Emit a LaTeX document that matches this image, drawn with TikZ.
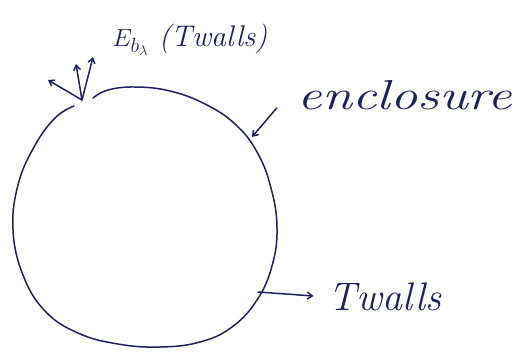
\documentclass[tikz,border=0pt]{standalone}
\usepackage{fontspec}
\usetikzlibrary{arrows.meta}
\definecolor{ink}{RGB}{28,32,92}
\tikzset{
  pen/.style={draw=ink, line width=1.5pt, line cap=round, line join=round},
  ray/.style={pen, -{Straight Barb[length=5pt,width=7pt]}},
  hand/.style={text=ink, inner sep=1pt, font=\itshape}
}
\begin{document}
\begin{tikzpicture}[x=1bp,y=-1bp]
\useasboundingbox (0,0) rectangle (518,358);
% enclosure wall
\draw[pen] plot[smooth, tension=0.7] coordinates {(93,98) (108,90) (135,87) (170,91) (205,104) (235,124) (257,152) (271,188) (277,228) (272,266) (257,300) (232,327) (200,342) (160,347) (118,344) (78,333) (45,311) (23,275) (13,230) (18,185) (34,147) (55,118) (74,106)};
\coordinate (emit) at (82,100);
\coordinate (ray1) at (48,80);
\coordinate (ray2) at (76,64);
\coordinate (ray3) at (93,57);
\coordinate (hit) at (252,137);
\coordinate (wall) at (258,292);
% emitted radiation
\draw[ray] (emit) -- (ray1);
\draw[ray] (emit) -- (ray2);
\draw[ray] (emit) -- (ray3);
\node[hand, font=\fontsize{30}{34}\selectfont\itshape] (elab) at (190,40) {$E_{b_\lambda}$ (Twalls)};
\node[hand, font=\fontsize{42}{46}\selectfont\itshape] (encl) at (405,95) {\scalebox{1.3}[1]{enclosure}};
\node[hand, font=\fontsize{40}{44}\selectfont\itshape] (twl) at (385,297) {Twalls};
\draw[ray] ([xshift=-20bp,yshift=-13bp]encl.west) -- (hit);
\draw[ray, shorten >=14bp] (wall) -- (twl.west);
\end{tikzpicture}
\end{document}
